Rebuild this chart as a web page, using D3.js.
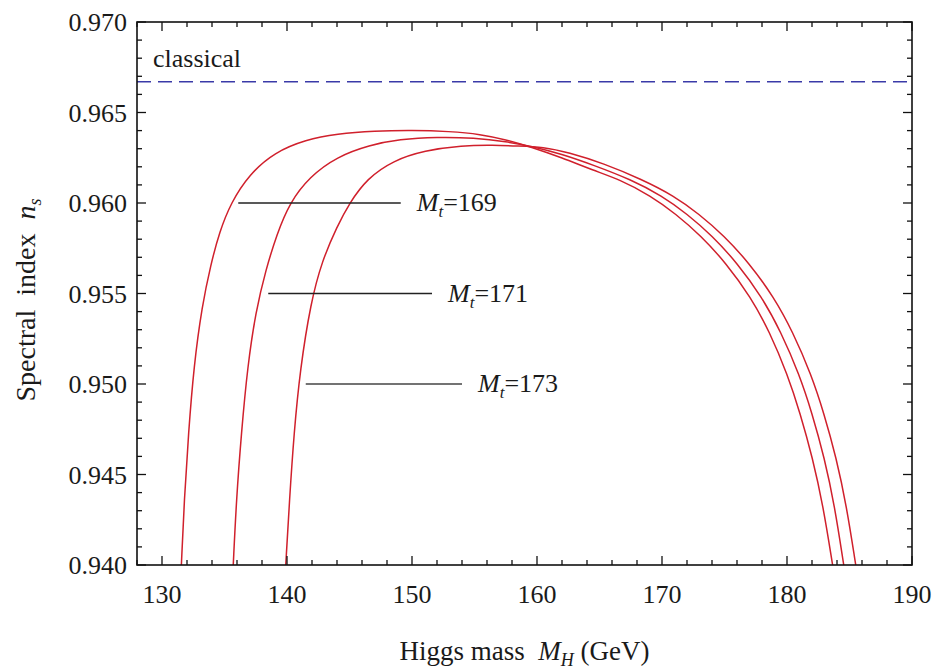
<!DOCTYPE html>
<html>
<head>
<meta charset="utf-8">
<script src="https://cdn.jsdelivr.net/npm/d3@7"></script>
<style>
  html, body { margin: 0; padding: 0; background: #fff; }
  svg text { font-family: "Liberation Serif", "Times New Roman", serif; fill: #1a1a1a; }
</style>
</head>
<body>
<svg id="chart" width="938" height="670"></svg>
<script>
// ---- Data ----
const higgsMass169 = [131.55,131.78,132.12,132.55,133.2,133.9,134.6,135.5,137.0,139.0,141.5,144.0,147.0,150.0,153.0,155.5,157.5,159.5,162.0,164.5,166.6,169.1,171.1,173.1,175.1,177.1,178.6,180.05,181.05,182.05,182.88,183.65];
const ns169        = [0.9400,0.9436,0.9473,0.9510,0.9543,0.9566,0.9584,0.9600,0.9616,0.9628,0.9635,0.96382,0.96398,0.96402,0.96396,0.9638,0.9635,0.9631,0.9625,0.9618,0.9613,0.9604,0.9594,0.9582,0.9567,0.9548,0.9529,0.9505,0.9484,0.9459,0.9433,0.9400];

const higgsMass171 = [135.7,135.95,136.35,136.85,137.5,138.3,139.2,140.2,141.8,144.0,146.6,149.0,152.0,155.0,157.5,159.8,162.0,164.5,167.5,170.0,172.0,174.0,176.0,178.0,179.5,181.0,182.0,183.0,183.8,184.54];
const ns171        = [0.9400,0.9436,0.9473,0.9510,0.9540,0.9563,0.9583,0.9600,0.96145,0.96256,0.9632,0.96352,0.96365,0.9636,0.9634,0.9631,0.9627,0.9621,0.9613,0.9604,0.9594,0.9582,0.9567,0.9548,0.9529,0.9505,0.9484,0.9459,0.9433,0.9400];

const higgsMass173 = [139.9,140.2,140.56,141.05,141.9,142.8,144.0,145.0,146.4,148.5,151.0,154.0,156.5,158.5,160.5,162.5,165.3,168.4,170.95,172.95,174.95,176.95,178.95,180.45,181.95,182.95,183.95,184.75,185.5];
const ns173        = [0.9400,0.9436,0.9473,0.9508,0.9545,0.9568,0.9587,0.9600,0.96135,0.96235,0.9629,0.96318,0.9632,0.96315,0.9631,0.9628,0.9622,0.9613,0.9604,0.9594,0.9582,0.9567,0.9548,0.9529,0.9505,0.9484,0.9459,0.9433,0.9400];

const classicalNs = 0.9667;
const topMassLabels = ["169", "171", "173"];
const labelLineNs   = [0.960, 0.955, 0.950];
const labelLineFrom = [136.1, 138.5, 141.5];
const labelLineTo   = [149.1, 151.6, 154.0];

const xMajorTicks = [130, 140, 150, 160, 170, 180, 190];
const yMajorTicks = [0.940, 0.945, 0.950, 0.955, 0.960, 0.965, 0.970];

// ---- Layout ----
const svg = d3.select("#chart");
const pLeft = 137, pRight = 912, pTop = 22, pBottom = 565;
const x = d3.scaleLinear().domain([128, 190]).range([pLeft, pRight]);
const y = d3.scaleLinear().domain([0.940, 0.970]).range([pBottom, pTop]);

const FS = 26;

svg.append("defs").append("clipPath").attr("id", "clip")
  .append("rect").attr("x", pLeft).attr("y", pTop).attr("width", pRight - pLeft).attr("height", pBottom - pTop);

const plot = svg.append("g").attr("clip-path", "url(#clip)");

// classical dashed line
plot.append("line")
  .attr("x1", x(128)).attr("x2", x(190))
  .attr("y1", y(classicalNs)).attr("y2", y(classicalNs))
  .attr("stroke", "#3a3aa8").attr("stroke-width", 1.6)
  .attr("stroke-dasharray", "14,7");

svg.append("text").attr("x", pLeft + 16).attr("y", y(classicalNs) - 15)
  .attr("font-size", FS).text("classical");

// curves
const series = [
  {mh: higgsMass169, ns: ns169},
  {mh: higgsMass171, ns: ns171},
  {mh: higgsMass173, ns: ns173}
];
const line = d3.line().x(d => x(d[0])).y(d => y(d[1])).curve(d3.curveBasis);
series.forEach(s => {
  const pts = s.mh.map((m, i) => [m, s.ns[i]]);
  plot.append("path").datum(pts)
    .attr("d", line)
    .attr("fill", "none")
    .attr("stroke", "#d0202c")
    .attr("stroke-width", 1.5);
});

// label lines and texts
topMassLabels.forEach((lab, i) => {
  plot.append("line")
    .attr("x1", x(labelLineFrom[i])).attr("x2", x(labelLineTo[i]))
    .attr("y1", y(labelLineNs[i])).attr("y2", y(labelLineNs[i]))
    .attr("stroke", i === 2 ? "#444" : "#222").attr("stroke-width", 1.5);
  const t = svg.append("text")
    .attr("x", x(labelLineTo[i]) + 16)
    .attr("y", y(labelLineNs[i]) + 8)
    .attr("font-size", FS);
  t.append("tspan").attr("font-style", "italic").text("M");
  t.append("tspan").attr("font-style", "italic").attr("font-size", 17).attr("dy", 6).text("t");
  t.append("tspan").attr("dy", -6).text("=" + lab);
});

// ---- Frame and ticks ----
const axisG = svg.append("g");
axisG.append("rect").attr("x", pLeft).attr("y", pTop).attr("width", pRight - pLeft).attr("height", pBottom - pTop)
  .attr("fill", "none").attr("stroke", "#111").attr("stroke-width", 1.6);

const xMinor = d3.range(128, 190.001, 2);
const yMinor = d3.range(0, 31).map(i => 0.940 + i * 0.001);
const majLen = 9, minLen = 5;
const isMajorX = v => xMajorTicks.some(t => Math.abs(t - v) < 1e-6);
const isMajorY = v => yMajorTicks.some(t => Math.abs(t - v) < 1e-7);

xMinor.forEach(v => {
  const L = isMajorX(v) ? majLen : minLen;
  axisG.append("line").attr("x1", x(v)).attr("x2", x(v)).attr("y1", pBottom).attr("y2", pBottom - L)
    .attr("stroke", "#111").attr("stroke-width", 1.3);
  axisG.append("line").attr("x1", x(v)).attr("x2", x(v)).attr("y1", pTop).attr("y2", pTop + L)
    .attr("stroke", "#111").attr("stroke-width", 1.3);
});
yMinor.forEach(v => {
  const L = isMajorY(v) ? majLen : minLen;
  axisG.append("line").attr("x1", pLeft).attr("x2", pLeft + L).attr("y1", y(v)).attr("y2", y(v))
    .attr("stroke", "#111").attr("stroke-width", 1.3);
  axisG.append("line").attr("x1", pRight).attr("x2", pRight - L).attr("y1", y(v)).attr("y2", y(v))
    .attr("stroke", "#111").attr("stroke-width", 1.3);
});

// tick labels
xMajorTicks.forEach(v => {
  svg.append("text").attr("x", x(v)).attr("y", pBottom + 38)
    .attr("text-anchor", "middle").attr("font-size", FS).text(d3.format("d")(v));
});
yMajorTicks.forEach(v => {
  svg.append("text").attr("x", pLeft - 10).attr("y", y(v) + 9)
    .attr("text-anchor", "end").attr("font-size", FS).text(d3.format(".3f")(v));
});

// axis titles
const xt = svg.append("text").attr("x", (pLeft + pRight) / 2).attr("y", 660)
  .attr("text-anchor", "middle").attr("font-size", 27).attr("xml:space", "preserve");
xt.append("tspan").text("Higgs mass  ");
xt.append("tspan").attr("font-style", "italic").text("M");
xt.append("tspan").attr("font-style", "italic").attr("font-size", 18).attr("dy", 6).text("H");
xt.append("tspan").attr("dy", -6).text(" (GeV)");

const yt = svg.append("text")
  .attr("transform", `translate(35, 300) rotate(-90)`)
  .attr("text-anchor", "middle").attr("font-size", 28).attr("xml:space", "preserve");
yt.append("tspan").text("Spectral  index  ");
yt.append("tspan").attr("font-style", "italic").text("n");
yt.append("tspan").attr("font-style", "italic").attr("font-size", 18).attr("dy", 6).text("s");
</script>
</body>
</html>
